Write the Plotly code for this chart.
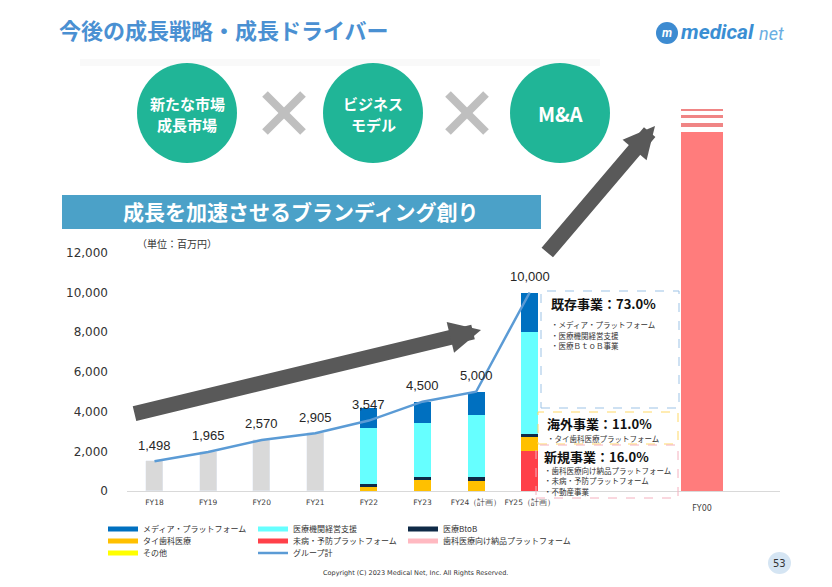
import plotly.graph_objects as go

# ---------------- data ----------------
categories = ["FY18", "FY19", "FY20", "FY21", "FY22", "FY23", "FY24（計画）", "FY25（計画）"]
group_total = [1498, 1965, 2570, 2905, 3547, 4500, 5000, 10000]
actual_total = [1498, 1965, 2570, 2905, None, None, None, None]

media = [None, None, None, None, 980, 1080, 1150, 1990]          # メディア・プラットフォーム
mgmt = [None, None, None, None, 2840, 2700, 3160, 5120]          # 医療機関経営支援
btob = [None, None, None, None, 140, 170, 170, 190]              # 医療BtoB
thai = [None, None, None, None, 200, 550, 520, 660]              # タイ歯科医療
mibyo = [None, None, None, None, 0, 0, 0, 2040]                  # 未病・予防プラットフォーム
dental = [None, None, None, None, 0, 0, 0, 0]                    # 歯科医療向け納品プラットフォーム
other = [None, None, None, None, 0, 0, 0, 0]                     # その他

future_cat = ["FY00"]
future_segments = [18100, 220, 232, 222, 166, 217, 86]   # solid bar + decorative stripes

y_ticks = [0, 2000, 4000, 6000, 8000, 10000, 12000]

# stacking order bottom -> top
series = [
    ("未病・予防プラットフォーム", mibyo, "#FF4049"),
    ("歯科医療向け納品プラットフォーム", dental, "#FFB9C1"),
    ("タイ歯科医療", thai, "#FFC000"),
    ("その他", other, "#FFFF00"),
    ("医療BtoB", btob, "#0F2A47"),
    ("医療機関経営支援", mgmt, "#66FFFF"),
    ("メディア・プラットフォーム", media, "#0070C0"),
]
legend_rows = {
    "legend": ["メディア・プラットフォーム", "医療機関経営支援", "医療BtoB"],
    "legend2": ["タイ歯科医療", "未病・予防プラットフォーム", "歯科医療向け納品プラットフォーム"],
    "legend3": ["その他"],
}

# ---------------- geometry helpers (page pixels -> paper) ----------------
W, H = 832, 587
L, R, T, B = 127, 780, 94, 491
def PX(p):
    return (p - L) / (R - L)
def PY(p):
    return (B - p) / (B - T)

JP = "Noto Sans CJK JP"
fig = go.Figure()

# gray past bars
fig.add_trace(go.Bar(x=categories, y=actual_total, marker_color="#D9D9D9", width=0.32,
                     showlegend=False, hoverinfo="skip"))
for name, vals, col in series:
    fig.add_trace(go.Bar(x=categories, y=vals, name=name, marker_color=col, width=0.32,
                         marker_line_width=0, showlegend=False))

# FY00 target bar (second x axis)
fy_colors = ["#FF7C7C", "rgba(0,0,0,0)", "#F08585", "rgba(0,0,0,0)", "#F08585",
             "rgba(0,0,0,0)", "#F08585"]
for v, c in zip(future_segments, fy_colors):
    fig.add_trace(go.Bar(x=future_cat, y=[v], xaxis="x2", yaxis="y", marker_color=c,
                         marker_line_width=0, width=0.78, showlegend=False, hoverinfo="skip"))

# legend swatches
color_of = {n: c for n, _, c in series}
rank = 1
for lg, names in legend_rows.items():
    for i, n in enumerate(names):
        fig.add_trace(go.Scatter(x=[None], y=[None], mode="lines", name=n, legend=lg,
                                 legendrank=rank, line=dict(color=color_of[n], width=5),
                                 legendwidth=105 if i < 2 else 200))
        rank += 1

# group total line
fig.add_trace(go.Scatter(x=categories, y=group_total, mode="lines", name="グループ計",
                         line=dict(color="#5B9BD5", width=2.5), legend="legend3", legendrank=rank))

# data labels
annotations = []
for c, v in zip(categories, group_total):
    annotations.append(dict(x=c, y=v, xref="x", yref="y", text=f"{v:,}", showarrow=False,
                            yshift=16, font=dict(family="Liberation Sans", size=13, color="#262626")))

shapes = []
# title shadow
shapes.append(dict(type="rect", xref="paper", yref="paper", x0=PX(80), x1=PX(600), y0=PY(66), y1=PY(59),
                   fillcolor="rgba(0,0,0,0.025)", line_width=0, layer="below"))
# circles
for cx in (187, 373, 560):
    r = 50
    shapes.append(dict(type="circle", xref="paper", yref="paper", x0=PX(cx - r), x1=PX(cx + r),
                       y0=PY(113 + r), y1=PY(113 - r), fillcolor="#20B597", line_width=0))
# crosses
for cx in (284, 467):
    s = 19
    shapes.append(dict(type="line", xref="paper", yref="paper", x0=PX(cx - s), y0=PY(113 - s),
                       x1=PX(cx + s), y1=PY(113 + s), line=dict(color="#BFBFBF", width=8)))
    shapes.append(dict(type="line", xref="paper", yref="paper", x0=PX(cx - s), y0=PY(113 + s),
                       x1=PX(cx + s), y1=PY(113 - s), line=dict(color="#BFBFBF", width=8)))
# banner
shapes.append(dict(type="rect", xref="paper", yref="paper", x0=PX(62), x1=PX(541), y0=PY(229), y1=PY(195),
                   fillcolor="#4BA1C8", line_width=0))
# dashed boxes
shapes.append(dict(type="rect", xref="paper", yref="paper", x0=PX(541), x1=PX(679), y0=PY(408), y1=PY(291),
                   line=dict(color="#9DC3E6", width=1, dash="dash"), fillcolor="rgba(0,0,0,0)"))
shapes.append(dict(type="rect", xref="paper", yref="paper", x0=PX(538), x1=PX(678), y0=PY(444), y1=PY(412),
                   line=dict(color="#FFD966", width=1, dash="dash"), fillcolor="rgba(0,0,0,0)"))
shapes.append(dict(type="rect", xref="paper", yref="paper", x0=PX(536), x1=PX(678), y0=PY(498), y1=PY(445),
                   line=dict(color="#F4B0BE", width=1, dash="dash"), fillcolor="rgba(0,0,0,0)"))
# logo icon
shapes.append(dict(type="circle", xref="paper", yref="paper", x0=PX(656), x1=PX(678), y0=PY(44), y1=PY(22),
                   fillcolor="#3D8BD1", line_width=0))
# page badge
shapes.append(dict(type="circle", xref="paper", yref="paper", x0=PX(768), x1=PX(791), y0=PY(574), y1=PY(552),
                   fillcolor="#D5E5F3", line_width=0))

def txt(x, y, s, size, color="#222222", bold=False, family=JP, anchor="left", italic=False):
    return dict(x=PX(x), y=PY(y), xref="paper", yref="paper", text=s, showarrow=False,
                xanchor=anchor, yanchor="middle",
                font=dict(family=family, size=size, color=color,
                          weight="bold" if bold else "normal",
                          style="italic" if italic else "normal"))

annotations += [
    txt(57, 29, "今後の成長戦略・成長ドライバー", 22, "#4A90D2", True),
    txt(667, 33, "m", 12, "#FFFFFF", True, "Roboto", "center", True),
    txt(679, 32, "medical", 21, "#3A8ED3", True, "Roboto", "left", True),
    txt(757, 34, "net", 18, "#6AAEE2", False, "Roboto", "left", True),
    txt(187, 103, "新たな市場", 15, "#FFFFFF", True, JP, "center"),
    txt(187, 124, "成長市場", 15, "#FFFFFF", True, JP, "center"),
    txt(373, 103, "ビジネス", 15, "#FFFFFF", True, JP, "center"),
    txt(373, 124, "モデル", 15, "#FFFFFF", True, JP, "center"),
    txt(560, 113, "M&A", 20, "#FFFFFF", True, JP, "center"),
    txt(301, 211, "成長を加速させるブランディング創り", 21, "#FFFFFF", True, JP, "center"),
    txt(135, 244, "（単位：百万円）", 10, "#333333"),
    txt(549, 303, "既存事業：73.0%", 13, "#111111", True),
    txt(549, 324, "・メディア・プラットフォーム", 7.5, "#333333"),
    txt(549, 335, "・医療機関経営支援", 7.5, "#333333"),
    txt(549, 345, "・医療ＢｔｏＢ事業", 7.5, "#333333"),
    txt(545, 423, "海外事業：11.0%", 13, "#111111", True),
    txt(545, 438, "・タイ歯科医療プラットフォーム", 7.5, "#333333"),
    txt(542, 456, "新規事業：16.0%", 13, "#111111", True),
    txt(542, 470, "・歯科医療向け納品プラットフォーム", 7.5, "#333333"),
    txt(542, 480, "・未病・予防プラットフォーム", 7.5, "#333333"),
    txt(542, 491, "・不動産事業", 7.5, "#333333"),
    txt(779.5, 563, "53", 10, "#333333", False, "DejaVu Sans", "center"),
    txt(415, 573, "Copyright (C) 2023 Medical Net, Inc. All Rights Reserved.", 6.5, "#333333", False,
        "DejaVu Sans", "center"),
]

# big arrows
for tip, tail in (((481, 330), (133, 414)), ((655, 126), (546, 254))):
    annotations.append(dict(x=PX(tip[0]), y=PY(tip[1]), xref="paper", yref="paper", text="",
                            showarrow=True, ax=tail[0] - tip[0], ay=tail[1] - tip[1],
                            axref="pixel", ayref="pixel", arrowhead=2, arrowsize=0.42,
                            arrowwidth=15, arrowcolor="#595959", standoff=0, startstandoff=0))

leg_common = dict(orientation="h", xanchor="left", yanchor="middle", x=PX(103),
                  font=dict(family=JP, size=8, color="#333333"), entrywidth=105,
                  entrywidthmode="pixels", bgcolor="rgba(0,0,0,0)", borderwidth=0,
                  itemclick=False, itemdoubleclick=False, tracegroupgap=0, traceorder="normal")

fig.update_layout(
    width=W, height=H,
    margin=dict(l=L, r=W - R, t=T, b=H - B, pad=0),
    paper_bgcolor="#FFFFFF", plot_bgcolor="rgba(0,0,0,0)",
    barmode="stack", bargap=0,
    font=dict(family=JP, color="#333333"),
    xaxis=dict(type="category", categoryorder="array", categoryarray=categories,
               range=[-0.513, 11.67], showline=True, linecolor="#D9D9D9", linewidth=1,
               showgrid=False, zeroline=False, ticks="", ticklabelstandoff=4, tickangle=0,
               tickfont=dict(family="DejaVu Sans", size=7.5, color="#404040"), fixedrange=True),
    xaxis2=dict(type="category", overlaying="x", side="bottom", range=[-10.727, 1.455],
                showline=False, showgrid=False, zeroline=False, ticks="", ticklabelstandoff=11,
                tickangle=0,
                tickfont=dict(family="DejaVu Sans", size=8, color="#404040"), fixedrange=True),
    yaxis=dict(range=[0, 20000], tickvals=y_ticks, tickformat=",", showgrid=False,
               zeroline=False, showline=False, ticks="", ticklabelstandoff=18,
               tickfont=dict(family="DejaVu Sans", size=12, color="#333333"), fixedrange=True),
    legend=dict(leg_common, y=PY(529)),
    legend2=dict(leg_common, y=PY(541)),
    legend3=dict(leg_common, y=PY(553)),
    shapes=shapes,
    annotations=annotations,
)

fig.write_html("out.html", config={"displayModeBar": False})
